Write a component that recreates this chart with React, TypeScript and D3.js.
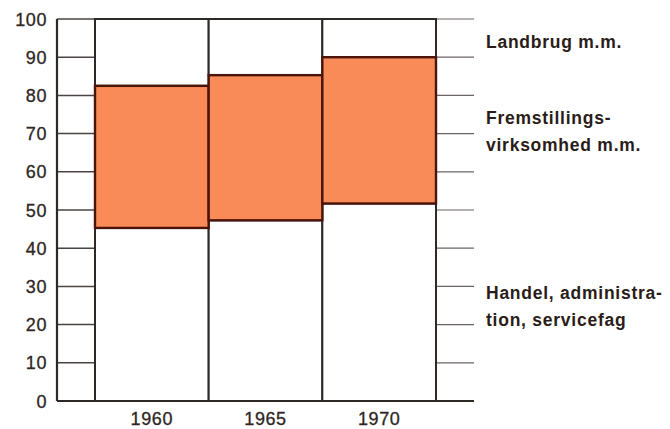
import React, { useEffect, useRef } from 'react';
import * as d3 from 'd3';

const years = ['1960', '1965', '1970'];
const handel = [45.3, 47.3, 51.7];
const fremstilling = [37.2, 38.0, 38.3];
const landbrug = [17.5, 14.7, 10.0];
const yTicks = [0, 10, 20, 30, 40, 50, 60, 70, 80, 90, 100];
const seriesKeys = ['handel', 'fremstilling', 'landbrug'];

const labelLines = [
  ['Landbrug m.m.'],
  ['Fremstillings-', 'virksomhed m.m.'],
  ['Handel, administra-', 'tion, servicefag'],
];

const App: React.FC = () => {
  const ref = useRef<SVGSVGElement | null>(null);

  useEffect(() => {
    if (!ref.current) return;
    const svg = d3.select(ref.current);
    svg.selectAll('*').remove();

    const width = 670;
    const height = 429;
    const axisX = 57;
    const rightEnd = 474;

    const x = d3.scaleBand().domain(years).range([95, 436]).padding(0);
    const y = d3.scaleLinear().domain([0, 100]).range([401, 19]);

    svg.attr('width', width).attr('height', height);
    svg.append('rect').attr('width', width).attr('height', height).attr('fill', '#fff');

    const rows = years.map((yr, i) => ({
      year: yr,
      handel: handel[i],
      fremstilling: fremstilling[i],
      landbrug: landbrug[i],
    }));
    const stacked = d3.stack<any>().keys(seriesKeys)(rows);

    const grid = svg.append('g');
    // left ticks
    grid.selectAll('.lt')
      .data(yTicks)
      .enter()
      .append('line')
      .attr('x1', axisX)
      .attr('x2', x(years[0])!)
      .attr('y1', d => y(d))
      .attr('y2', d => y(d))
      .attr('stroke', '#4a4442')
      .attr('stroke-width', 1.5);
    // right ticks
    grid.selectAll('.rt')
      .data(yTicks)
      .enter()
      .append('line')
      .attr('x1', x(years[2])! + x.bandwidth())
      .attr('x2', rightEnd)
      .attr('y1', d => y(d))
      .attr('y2', d => y(d))
      .attr('stroke', '#6a6462')
      .attr('stroke-width', 1.2);

    const colors: Record<string, string> = {
      handel: '#ffffff',
      fremstilling: '#f98b58',
      landbrug: '#ffffff',
    };
    const strokes: Record<string, string> = {
      handel: '#2e2826',
      fremstilling: '#4a140a',
      landbrug: '#2e2826',
    };

    // white segments first, orange on top so its brown edges show
    const order = [0, 2, 1];
    order.forEach(si => {
      const s = stacked[si];
      svg.append('g')
        .selectAll('rect')
        .data(s)
        .enter()
        .append('rect')
        .attr('x', (d: any) => x(d.data.year)!)
        .attr('width', x.bandwidth())
        .attr('y', (d: any) => y(d[1]))
        .attr('height', (d: any) => y(d[0]) - y(d[1]))
        .attr('fill', colors[s.key])
        .attr('stroke', strokes[s.key])
        .attr('stroke-width', s.key === 'fremstilling' ? 2.4 : 2);
    });

    // axis lines
    svg.append('line')
      .attr('x1', axisX).attr('x2', axisX)
      .attr('y1', y(100)).attr('y2', y(0))
      .attr('stroke', '#2e2826').attr('stroke-width', 2.2);
    svg.append('line')
      .attr('x1', axisX).attr('x2', rightEnd)
      .attr('y1', y(0)).attr('y2', y(0))
      .attr('stroke', '#2e2826').attr('stroke-width', 2.2);

    const font = 'Liberation Sans, Arial, sans-serif';

    // y tick labels
    svg.append('g')
      .selectAll('text')
      .data(yTicks)
      .enter()
      .append('text')
      .attr('x', 47)
      .attr('y', d => y(d) + 6.5)
      .attr('text-anchor', 'end')
      .attr('font-family', font)
      .attr('font-size', 18)
      .attr('letter-spacing', 0.6)
      .attr('fill', '#2e2624')
      .attr('stroke', '#2e2624')
      .attr('stroke-width', 0.3)
      .text(d => d);

    // x labels
    svg.append('g')
      .selectAll('text')
      .data(years)
      .enter()
      .append('text')
      .attr('x', d => x(d)! + x.bandwidth() / 2)
      .attr('y', 424.5)
      .attr('text-anchor', 'middle')
      .attr('font-family', font)
      .attr('font-size', 18)
      .attr('letter-spacing', 0.6)
      .attr('fill', '#2e2624')
      .attr('stroke', '#2e2624')
      .attr('stroke-width', 0.3)
      .text(d => d);

    // series labels on the right
    const baselines = [[48], [124, 151], [299, 326]];
    const lab = svg.append('g');
    labelLines.forEach((lines, li) => {
      lines.forEach((line, i) => {
        lab.append('text')
          .attr('x', 486)
          .attr('y', baselines[li][i])
          .attr('font-family', font)
          .attr('font-weight', 'bold')
          .attr('font-size', 17.5)
          .attr('letter-spacing', 0.75)
          .attr('fill', '#2a1c18')
          .text(line);
      });
    });
  }, []);

  return (
    <svg ref={ref} style={{ position: 'absolute', left: 0, top: 0, display: 'block' }} />
  );
};

export default App;
